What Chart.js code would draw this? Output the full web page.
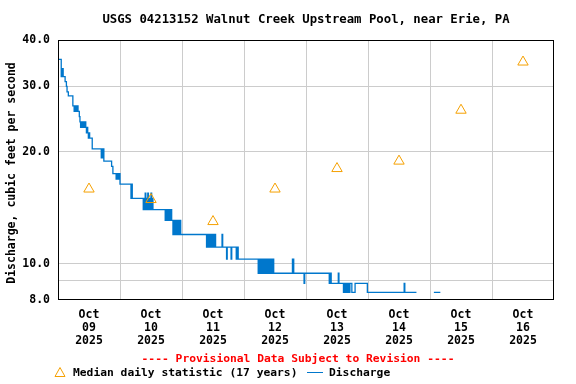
<!DOCTYPE html>
<html>
<head>
<meta charset="utf-8">
<script src="https://cdn.jsdelivr.net/npm/chart.js@4.4.1/dist/chart.umd.min.js"></script>
<style>
html, body { margin: 0; padding: 0; background: #fff; }
#wrap { width: 576px; height: 384px; }
</style>
</head>
<body>
<div id="wrap"><canvas id="chart" width="576" height="384"></canvas></div>
<script>
//Hours since Oct 09 2025 00:00 where the reading changes, and the new value (cfs)
const dischargeHours = [
    0, 1.25, 1.75, 2.0, 2.75, 3.25, 3.5, 4.0,
    5.75, 6.25, 6.5, 6.75, 7.0, 7.25, 7.5, 7.75,
    8.25, 8.5, 8.75, 9.0, 9.25, 9.5, 9.75, 10.0, 10.25, 10.5, 10.75,
    11.0, 11.25, 11.5, 11.75, 12.0, 12.25, 13.25,
    16.75, 17.0, 17.25, 17.5, 17.75, 20.75, 21.25,
    22.5, 22.75, 23.0, 23.25, 23.5, 23.75, 24.0,
    28.25, 28.5, 28.75,
    33.0, 33.25, 33.5, 33.75, 34.0, 34.25, 34.5, 34.75, 35.0, 35.25, 35.5, 35.75, 36.0, 36.25, 36.5, 36.75,
    41.5, 41.75, 42.0, 42.25, 42.5, 42.75, 43.0, 43.25, 43.5, 43.75, 44.0,
    44.5, 44.75, 45.25, 45.75, 46.0, 46.5, 46.75, 47.25, 47.5,
    57.5, 57.75, 58.0, 58.25, 58.5, 58.75, 59.0, 59.25, 59.5, 60.0, 60.25, 60.75, 61.0, 63.5, 63.75,
    65.25, 65.5, 67.0, 67.25, 69.0, 69.25, 69.75,
    77.5, 77.75, 78.0, 78.25, 78.5, 79.0, 79.25, 79.75, 80.0, 80.25, 80.5, 81.0, 81.25, 81.5, 81.75, 82.0, 82.25, 82.5, 82.75, 83.25, 83.5,
    90.75, 91.25, 95.25, 95.5,
    105.0, 105.25, 105.75, 108.5, 108.75,
    110.5, 110.75, 111.0, 111.5, 111.75, 112.25, 112.5, 113.0, 113.75, 115.0, 119.75,
    134.0, 134.25, 138.75, 139.0, 145.5, 148.0
];
const dischargeCfs = [
    35.5, 31.9, 33.5, 31.9, 30.9, 30.0, 29.0, 28.3,
    26.6, 25.7, 26.6, 25.7, 26.6, 25.7, 26.6, 25.7,
    24.9, 24.1, 23.3, 24.1, 23.3, 24.1, 23.3, 24.1, 23.3, 24.1, 23.3,
    22.5, 23.3, 22.5, 21.8, 22.5, 21.8, 20.4,
    19.3, 20.4, 19.3, 20.4, 18.9, 18.3, 17.5,
    16.9, 17.5, 16.9, 17.5, 16.9, 17.5, 16.4,
    15.0, 16.4, 15.0,
    14.0, 15.0, 14.0, 15.5, 14.0, 15.0, 14.0, 15.5, 15.0, 14.0, 15.0, 14.0, 15.5, 14.0, 15.0, 14.0,
    13.1, 14.0, 13.1, 14.0, 13.1, 14.0, 13.1, 14.0, 13.1, 14.0, 13.1,
    12.0, 13.1, 12.0, 13.1, 12.0, 13.1, 12.0, 13.1, 12.0,
    11.1, 12.0, 11.1, 12.0, 11.1, 12.0, 11.1, 12.0, 11.1, 12.0, 11.1, 12.0, 11.1, 12.0, 11.1,
    10.3, 11.1, 10.3, 11.1, 10.3, 11.1, 10.3,
    9.44, 10.3, 9.44, 10.3, 9.44, 10.3, 9.44, 10.3, 9.44, 10.3, 9.44, 10.3, 9.44, 10.3, 9.44, 10.3, 9.44, 10.3, 9.44, 10.3, 9.44,
    10.3, 9.44, 8.87, 9.44,
    8.87, 9.44, 8.87, 9.44, 8.87,
    8.39, 8.87, 8.39, 8.87, 8.39, 8.87, 8.39, 8.87, 8.39, 8.87, 8.39,
    8.87, 8.39, 8.39, null, 8.39, 8.39
];

//Median daily statistic, plotted at noon of each day
const medianHours = [12, 36, 60, 84, 108, 132, 156, 180];
const medianCfs = [15.9, 14.9, 13.0, 15.9, 18.05, 18.9, 25.9, 34.9];

//Axis ticks
const xTickHours = [0, 12, 24, 36, 48, 60, 72, 84, 96, 108, 120, 132, 144, 156, 168, 180, 192];
const dayLabels = ['09', '10', '11', '12', '13', '14', '15', '16'];
const monthLabel = 'Oct';
const yearLabel = '2025';
const yTicks = [8, 9, 10, 20, 30, 40];
const yLabelled = [8, 10, 20, 30, 40];

const blue = '#0077cc';
const orange = '#f5a000';
const mono = '"DejaVu Sans Mono", "Liberation Mono", monospace';

var dischargePoints = [];
for (var i = 0; i < dischargeHours.length; i++) {
    dischargePoints.push({ x: dischargeHours[i], y: dischargeCfs[i] });
}
var medianPoints = [];
for (var i = 0; i < medianHours.length; i++) {
    medianPoints.push({ x: medianHours[i], y: medianCfs[i] });
}

//Draws frame, title, axis title and legend text
const usgsText = {
    id: 'usgsText',
    afterDraw(chart) {
        const ctx = chart.ctx;
        const a = chart.chartArea;
        ctx.save();

        ctx.strokeStyle = '#000';
        ctx.lineWidth = 1;
        ctx.strokeRect(a.left + 0.5, a.top + 0.5, a.right - a.left - 1, a.bottom - a.top - 1);

        ctx.fillStyle = '#000';
        ctx.textAlign = 'center';
        ctx.textBaseline = 'middle';
        ctx.font = 'bold 12.3px ' + mono;
        ctx.fillText('USGS 04213152 Walnut Creek Upstream Pool, near Erie, PA', (a.left + a.right) / 2, 20);

        ctx.font = 'bold 11.5px ' + mono;
        ctx.save();
        ctx.translate(12, (a.top + a.bottom) / 2 + 3);
        ctx.rotate(-Math.PI / 2);
        ctx.fillText('Discharge, cubic feet per second', 0, 0);
        ctx.restore();

        ctx.font = 'bold 11.3px ' + mono;
        ctx.fillStyle = '#ff0000';
        ctx.fillText('---- Provisional Data Subject to Revision ----', 298, 359);

        //Legend
        ctx.strokeStyle = orange;
        ctx.beginPath();
        ctx.moveTo(60, 367.5);
        ctx.lineTo(65, 376.5);
        ctx.lineTo(55, 376.5);
        ctx.closePath();
        ctx.stroke();

        ctx.fillStyle = '#000';
        ctx.textAlign = 'left';
        ctx.fillText('Median daily statistic (17 years)', 73, 373);

        ctx.strokeStyle = blue;
        ctx.beginPath();
        ctx.moveTo(307, 372.5);
        ctx.lineTo(323, 372.5);
        ctx.stroke();
        ctx.fillText('Discharge', 329, 373);

        ctx.restore();
    }
};

new Chart(document.getElementById('chart'), {
    type: 'scatter',
    data: {
        datasets: [
            {
                label: 'Discharge',
                data: dischargePoints,
                showLine: true,
                stepped: true,
                spanGaps: false,
                borderColor: blue,
                borderWidth: 1.3,
                pointRadius: 0,
                order: 2
            },
            {
                label: 'Median daily statistic (17 years)',
                data: medianPoints,
                showLine: false,
                pointStyle: 'triangle',
                pointRadius: 6,
                borderColor: orange,
                backgroundColor: 'rgba(0,0,0,0)',
                borderWidth: 1,
                order: 1
            }
        ]
    },
    options: {
        responsive: false,
        animation: false,
        devicePixelRatio: 1,
        layout: { padding: { left: 0, top: 40, right: 22, bottom: 0 } },
        plugins: {
            legend: { display: false },
            title: { display: false },
            tooltip: { enabled: false }
        },
        scales: {
            x: {
                type: 'linear',
                min: 0,
                max: 192,
                afterBuildTicks: function(scale) {
                    scale.ticks = xTickHours.map(function(v) { return { value: v }; });
                },
                afterFit: function(scale) { scale.height = 84; },
                border: { display: false },
                grid: {
                    drawTicks: false,
                    color: function(c) {
                        var v = c.tick ? c.tick.value : 0;
                        return (v % 24 === 0 && v > 0 && v < 192) ? '#cccccc' : 'rgba(0,0,0,0)';
                    }
                },
                ticks: {
                    autoSkip: false,
                    maxRotation: 0,
                    padding: 8,
                    color: '#000',
                    font: { family: mono, size: 11.5, weight: 'bold', lineHeight: 1.14 },
                    callback: function(value) {
                        if (value % 24 === 12) {
                            return [monthLabel, dayLabels[(value - 12) / 24], yearLabel];
                        }
                        return '';
                    }
                }
            },
            y: {
                type: 'logarithmic',
                min: 8,
                max: 40,
                afterBuildTicks: function(scale) {
                    scale.ticks = yTicks.map(function(v) { return { value: v }; });
                },
                afterFit: function(scale) { scale.width = 58; },
                border: { display: false },
                grid: {
                    drawTicks: false,
                    color: function(c) {
                        var v = c.tick ? c.tick.value : 0;
                        return (v > 8 && v < 40) ? '#cccccc' : 'rgba(0,0,0,0)';
                    }
                },
                ticks: {
                    padding: 8,
                    color: '#000',
                    font: { family: mono, size: 11.5, weight: 'bold' },
                    callback: function(value) {
                        return yLabelled.indexOf(value) >= 0 ? value.toFixed(1) : '';
                    }
                }
            }
        }
    },
    plugins: [usgsText]
});
</script>
</body>
</html>
